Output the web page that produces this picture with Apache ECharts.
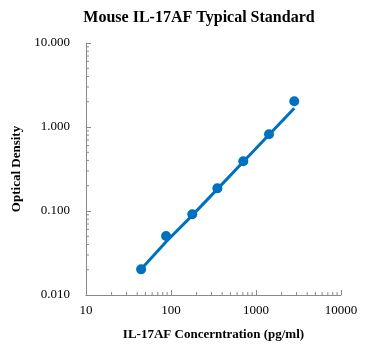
<!DOCTYPE html>
<html><head><meta charset="utf-8">
<script src="https://cdn.jsdelivr.net/npm/echarts@6/dist/echarts.min.js"></script>
<style>html,body{margin:0;padding:0;background:#fff}#c{width:371px;height:351px}</style>
</head><body><div id="c"></div>
<script>
var concentrations = [44.5, 87.5, 178, 351, 709, 1422, 2820];
var odValues = [0.0202, 0.0504, 0.0914, 0.186, 0.391, 0.818, 2.03];
var trendValues = [0.0202, 0.043, 0.0887, 0.182, 0.386, 0.807, 1.67];
var yTickLabels = {"0.01":"0.010","0.1":"0.100","1":"1.000","10":"10.000"};
var xTickLabels = {"10":"10","100":"100","1000":"1000","10000":"10000"};
var font = "'Liberation Serif','Times New Roman',serif";
var chart = echarts.init(document.getElementById('c'));
var blue = '#0070C0';
chart.setOption({
  animation:false,
  title:{text:'Mouse IL-17AF Typical Standard',left:194,top:5,textAlign:'center',
    textStyle:{fontFamily:font,fontWeight:'bold',fontSize:16,color:'#000'}},
  grid:{left:86,right:30,top:43,bottom:56},
  xAxis:{type:'log',logBase:10,min:10,max:10000,
    name:'IL-17AF Concerntration (pg/ml)',nameLocation:'middle',nameGap:33,
    nameTextStyle:{fontFamily:font,fontWeight:'bold',fontSize:13,color:'#000'},
    axisLine:{lineStyle:{color:'#898989'}},
    axisTick:{inside:true,length:5,lineStyle:{color:'#898989'}},
    splitLine:{show:false},
    axisLabel:{fontFamily:font,fontSize:13,color:'#000',margin:9,
      formatter:function(v){var k=String(Math.round(v));return xTickLabels[k]||k;}}},
  yAxis:{type:'log',logBase:10,min:0.01,max:10,
    name:'Optical Density',nameLocation:'middle',nameGap:54,
    nameTextStyle:{fontFamily:font,fontWeight:'bold',fontSize:13,color:'#000'},
    axisLine:{show:true,lineStyle:{color:'#898989'}},
    axisTick:{show:true,inside:true,length:5,lineStyle:{color:'#898989'}},
    splitLine:{show:false},
    axisLabel:{fontFamily:font,fontSize:13,color:'#000',margin:16,
      formatter:function(v){var k=String(+v.toPrecision(3));return yTickLabels[k]||v.toFixed(3);}}},
  series:[
    {type:'line',data:concentrations.map(function(c,i){return [c,trendValues[i]];}),
     symbol:'none',smooth:false,lineStyle:{color:blue,width:3},z:2},
    {type:'scatter',data:concentrations.map(function(c,i){return [c,odValues[i]];}),
     symbol:'circle',symbolSize:10,itemStyle:{color:blue,opacity:1},z:3}
  ]
});
var g=[];
function addMinor(isX, lo, hi){
  for(var d=lo; d<hi*0.999; d*=10){
    for(var k=2;k<=9;k++){
      var v=d*k;
      if(isX){
        var p=chart.convertToPixel({xAxisIndex:0},v);
        g.push({type:'line',shape:{x1:p,y1:295,x2:p,y2:292},style:{stroke:'#898989',lineWidth:1},silent:true});
      } else {
        var q=chart.convertToPixel({yAxisIndex:0},v);
        g.push({type:'line',shape:{x1:86,y1:q,x2:89,y2:q},style:{stroke:'#898989',lineWidth:1},silent:true});
      }
    }
  }
}
addMinor(true,10,10000);
addMinor(false,0.01,10);
chart.setOption({graphic:g});
</script></body></html>
